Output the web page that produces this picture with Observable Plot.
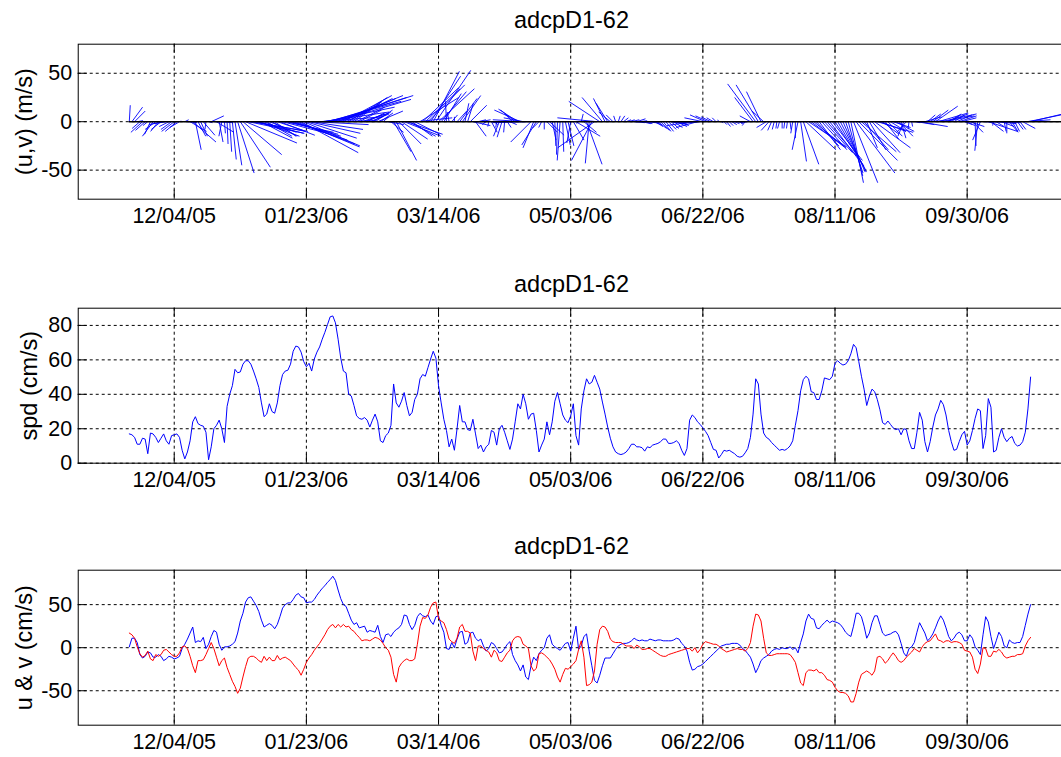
<!DOCTYPE html>
<html>
<head>
<meta charset="utf-8">
<script src="https://cdn.jsdelivr.net/npm/d3@7"></script>
<script src="https://cdn.jsdelivr.net/npm/@observablehq/plot@0.6"></script>
<style>
html, body { margin: 0; padding: 0; background: #fff; overflow: hidden; width: 1061px; height: 757px; }
#wrap { position: relative; width: 1061px; height: 757px; overflow: hidden; background: #fff; }
.panel { position: absolute; left: 0; width: 1080px; }
.panel svg { max-width: none !important; width: 1080px; display: block; }
</style>
</head>
<body>
<div id="wrap"></div>
<script>
// ---- data (daily samples starting 2005-11-17) ----
const startDate = "2005-11-17";
const titleText = "adcpD1-62";
const tickLabels = ["12/04/05", "01/23/06", "03/14/06", "05/03/06", "06/22/06", "08/11/06", "09/30/06"];
const yLabels = ["(u,v) (m/s)", "spd (cm/s)", "u & v (cm/s)"];
const yTicksStick = [-50, 0, 50];
const yTicksSpd = [0, 20, 40, 60, 80];
const yTicksUV = [-50, 0, 50];

// u (east, blue), cm/s
const u = [
  1, 11, 11, 6, -8, -12, -10, -5, -6, -11,
  -11, -8, -10, -15, -13, -10, -11, -13, -12, -10,
  -1, 4, 10, 17, 24, 6, 8, 7, 12, -1,
  4, 13, 20, 18, 4, -3, 1, 1, 2, 4,
  7, 17, 31, 40, 53, 58, 59, 54, 49, 42,
  32, 24, 26, 28, 26, 22, 27, 36, 46, 50,
  52, 52, 56, 61, 63, 59, 58, 52, 53, 53,
  56, 61, 65, 69, 72, 76, 79, 83, 78, 67,
  57, 50, 48, 40, 32, 27, 29, 23, 24, 25,
  18, 20, 19, 18, 26, 13, 6, 15, 16, 13,
  18, 21, 23, 27, 38, 37, 27, 21, 26, 36,
  40, 37, 36, 38, 31, 27, 36, 37, 26, 18,
  -1, -2, 6, 0, 10, 18, 19, 4, 6, 17,
  18, 11, 8, 10, 2, -4, -1, 6, 4, -1,
  -6, -5, -1, 4, 7, -8, -15, -20, -27, -20,
  -34, -37, -21, -11, -15, -7, -3, 0, 11, 15,
  4, 1, -1, -3, 1, 5, 6, -4, 11, 25,
  -2, 2, 13, 16, -4, -21, -38, -41, -32, -21,
  -12, -12, -12, -7, -2, 2, 4, 5, 5, 6,
  8, 11, 9, 8, 9, 8, 8, 10, 9, 8,
  9, 9, 8, 8, 8, 8, 9, 11, 10, 5,
  2, -4, -17, -26, -25, -22, -21, -19, -16, -13,
  -10, -7, -4, -1, 2, 3, 4, 4, 5, 5,
  5, 3, -1, -3, -7, -11, -19, -29, -23, -15,
  -12, -10, -8, -4, -2, -1, -2, 0, -1, -1,
  1, -2, 0, -6, 6, 16, 31, 39, 34, 33,
  23, 22, 26, 29, 32, 29, 31, 30, 29, 27,
  23, 18, 15, 13, 25, 40, 40, 36, 25, 11,
  17, 29, 37, 37, 27, 17, 14, 15, 16, 18,
  19, 15, 5, -6, -10, -1, 1, 6, 18, 29,
  23, 17, 8, 11, 16, 23, 31, 37, 32, 23,
  13, 8, 11, 16, 18, 15, 8, 8, 15, 11,
  1, -3, -8, 15, 36, 30, 13, -1, 8, 18,
  13, 2, 0, 9, 6, 5, 6, 6, 13, 26,
  39, 50
];

// v (north, red), cm/s
const v = [
  17, 15, 11, 1, -7, -11, -9, -4, -13, -15,
  -8, -10, -8, -3, -2, -5, -8, -10, -10, -6,
  1, 2, -1, -10, -21, -29, -15, -15, -14, -8,
  -1, 6, -1, -11, -21, -15, -12, -23, -31, -39,
  -45, -53, -47, -34, -22, -12, -10, -10, -12, -15,
  -17, -10, -15, -11, -15, -15, -9, -14, -12, -11,
  -13, -15, -19, -23, -26, -32, -25, -17, -12, -8,
  -3, 1, 5, 10, 15, 21, 25, 27, 23, 27,
  24, 27, 24, 25, 21, 19, 15, 12, 8, 9,
  9, 8, 10, 12, 11, 9, 5, 0, -3, -11,
  -31, -40, -23, -18, -15, -13, -15, -15, -13, 4,
  25, 35, 34, 38, 47, 52, 53, 34, 31, 29,
  21, 10, 7, 5, 11, 24, 27, 19, 19, 17,
  -4, -15, 2, 2, -1, -3, -5, -11, -3, -6,
  -15, -16, -11, -6, -3, 8, 12, 13, 12, 4,
  2, -1, -21, -27, -24, -7, -6, -8, -11, -14,
  -19, -25, -34, -40, -31, -24, -25, -22, -19, -15,
  -2, 8, -11, -44, -43, -40, -27, 4, 21, 25,
  24, 19, 10, 7, 6, 6, 6, 4, 2, 2,
  2, -1, 3, 1, -2, -2, -1, -1, -3, -5,
  -7, -9, -10, -10, -8, -7, -6, -5, -4, -3,
  -2, -1, -1, -4, 0, -6, -2, 4, 7, 6,
  5, 4, 4, 2, -1, -3, -5, -4, -3, -2,
  -1, -2, -2, -4, -1, 6, 25, 39, 38, 31,
  11, -6, -9, -9, -8, -7, -7, -7, -7, -7,
  -8, -12, -17, -29, -41, -44, -29, -26, -26, -27,
  -25, -29, -29, -32, -37, -38, -40, -46, -50, -52,
  -52, -53, -56, -63, -63, -53, -40, -31, -29, -27,
  -29, -32, -27, -11, -10, -13, -18, -15, -10, -6,
  -10, -15, -17, -15, -11, -8, -5, -1, -3, -5,
  1, 5, 7, 8, 12, 16, 9, 8, 6, 8,
  8, 6, 7, 7, 6, 4, -3, -4, -5, -11,
  -25, -30, -19, 0, -1, -10, -10, -4, -5, -2,
  -5, -10, -12, -11, -10, -10, -8, -8, -7, 2,
  8, 12
];

// speed, cm/s
const spd = [
  17, 16.5, 15, 11, 11, 14.5, 14, 5.5, 17.5, 17,
  15, 12, 14.5, 17, 13, 11, 16, 16.5, 17, 15,
  7.5, 2.5, 6.5, 13, 24, 27, 23, 22, 21.5, 18,
  2, 9.5, 20, 22, 25, 20, 12, 33, 40, 45,
  54.5, 52.5, 53, 57.5, 59.5, 59.5, 57.5, 53.5, 49, 44,
  35, 27, 28.5, 34.5, 30, 29, 35, 45, 51.5, 53.5,
  54, 57.5, 65, 68, 67.5, 64.5, 59, 56, 58, 53.5,
  60.5, 64.5, 67.5, 72, 76, 80.5, 85, 85.5, 81.5, 72,
  61, 53.5, 52.5, 40, 39, 33.5, 27.5, 26, 25.5, 26.5,
  25, 21, 25, 28.5, 24, 13, 12, 16, 17.5, 22,
  46, 35, 32.5, 36, 41, 33.5, 27.5, 29.5, 37, 40,
  49, 51.5, 50.5, 55.5, 60.5, 65, 61, 45, 35, 25.5,
  19, 9.5, 14, 7.5, 20, 33.5, 24, 24, 19.5, 19,
  25.5, 17, 8.5, 10.5, 6.5, 9.5, 11, 19, 18, 10.5,
  20, 22, 18, 13, 8, 14, 24, 34.5, 31.5, 40,
  34.5, 25.5, 28.5, 29, 19, 6.5, 10.5, 14, 24, 16.5,
  24, 36, 41, 34.5, 28, 25, 23.5, 27.5, 34.5, 16,
  10.5, 31.5, 42, 49, 46, 47, 51, 47, 43, 35.5,
  28.5, 21, 14.5, 9.5, 6.5, 5.5, 5, 5.5, 6.5, 8.5,
  11, 11, 9.5, 9.5, 9, 7, 9.5, 9, 10.5, 11,
  11.5, 12.5, 14, 14, 11.5, 11.5, 12, 13, 11.5, 7.5,
  4.5, 8.5, 25, 28, 26.5, 24, 22.5, 20.5, 18.5, 16,
  12, 8, 7.5, 3, 5, 7.5, 7, 7.5, 6.5, 5.5,
  4, 3.5, 4, 6, 8.5, 15, 28.5, 49, 46, 28.5,
  17.5, 15, 14, 12, 10.5, 9, 7.5, 8, 7.5, 8.5,
  10, 13, 22, 30.5, 42, 48.5, 50.5, 49, 41.5, 41,
  37, 37, 42, 49.5, 49, 48.5, 50.5, 58, 59.5, 58,
  57, 57.5, 59.5, 63.5, 69, 67, 59, 50.5, 43, 33.5,
  39, 43, 41.5, 37, 31, 23.5, 22.5, 24.5, 22.5, 20.5,
  19.5, 20, 16.5, 20, 19.5, 13, 8.5, 8.5, 18, 29.5,
  25, 12.5, 6.5, 12.5, 21, 28, 31.5, 36.5, 34, 28,
  19, 12.5, 7.5, 8, 12.5, 16.5, 18.5, 10.5, 13, 19,
  26, 31.5, 30.5, 8.5, 16, 37.5, 32.5, 6.5, 7.5, 15,
  20, 15, 12.5, 14.5, 15.5, 11.5, 10, 10.5, 12.5, 18,
  31.5, 50
];

// ---- build table ----
const DAY = 864e5;
const t0 = d3.utcParse("%Y-%m-%d")(startDate).getTime();
const n = Math.min(u.length, v.length, spd.length);
const rows = d3.range(n).map(i => ({date: new Date(t0 + i * DAY), u: u[i], v: v[i], spd: spd[i]}));
const xt = tickLabels.map(d3.utcParse("%m/%d/%y"));
const fmt = d3.utcFormat("%m/%d/%y");

// ---- layout ----
const ML = 77.7, MT = 43.7, FH = 155, MB = 34, FW = 986.6, W = 1080;
const xDomain = [new Date(Date.UTC(2005, 9, 28, 16, 20)), new Date(Date.UTC(2006, 10, 5, 22, 20))];
const spanDays = (xDomain[1] - xDomain[0]) / DAY;
const FONT = "'Liberation Sans', Arial, Helvetica, sans-serif";
const BLUE = "#0000ff", RED = "#ff0000";

function panel(top, ydomain, yticks, ylabel, labelX, dataMarks) {
  const chart = Plot.plot({
    width: W,
    height: MT + FH + MB,
    marginLeft: ML,
    marginRight: W - ML - FW,
    marginTop: MT,
    marginBottom: MB,
    style: {fontFamily: FONT, fontSize: "21.5px", color: "black", background: "white", overflow: "visible", maxWidth: "none"},
    x: {type: "utc", domain: xDomain, axis: null, label: null},
    y: {domain: ydomain, axis: null, label: null},
    marks: [
      Plot.ruleX(xt, {stroke: "black", strokeWidth: 1, strokeDasharray: "3,3"}),
      Plot.ruleY(yticks, {stroke: "black", strokeWidth: 1, strokeDasharray: "3,3"}),
      ...dataMarks,
      Plot.ruleX(xt, {stroke: "black", insetBottom: FH - 9}),
      Plot.ruleX(xt, {stroke: "black", insetTop: FH - 9}),
      Plot.ruleY(yticks, {stroke: "black", insetRight: FW - 9}),
      Plot.frame({stroke: "black", strokeWidth: 1}),
      Plot.axisX({ticks: xt, tickFormat: fmt, tickSize: 0, tickPadding: 8.6, label: null}),
      Plot.axisY({ticks: yticks, tickFormat: d => String(d), tickSize: 0, tickPadding: 6, label: null}),
      Plot.text([titleText], {text: d => d, frameAnchor: "top", lineAnchor: "bottom", dy: -15.7, fontSize: 23.5, fill: "black"}),
      Plot.text([ylabel], {text: d => d, frameAnchor: "left", rotate: -90, dx: labelX - ML, fontSize: 23.5, lineAnchor: "middle", textAnchor: "middle", fill: "black"})
    ]
  });
  const div = document.createElement("div");
  div.className = "panel";
  div.style.top = top + "px";
  div.appendChild(chart);
  document.getElementById("wrap").appendChild(div);
}

// stick scale: keep true aspect (px per unit y == px per unit of u along x)
const stickDomain = [-80, 80];
const kDays = (FH / (stickDomain[1] - stickDomain[0])) / (FW / spanDays);

panel(0, stickDomain, yTicksStick, yLabels[0], 24, [
  Plot.link(rows, {
    x1: "date", y1: () => 0,
    x2: d => new Date(d.date.getTime() + d.u * kDays * DAY), y2: "v",
    stroke: BLUE, strokeWidth: 0.9
  }),
  Plot.ruleY([0], {x1: () => rows[0].date, x2: () => xDomain[1], stroke: "black", strokeWidth: 1.5})
]);

panel(263.8, [0, 90], yTicksSpd, yLabels[1], 29, [
  Plot.line(rows, {x: "date", y: "spd", stroke: BLUE, strokeWidth: 1})
]);

panel(525.6, [-90, 90], yTicksUV, yLabels[2], 24, [
  Plot.line(rows, {x: "date", y: "u", stroke: BLUE, strokeWidth: 1}),
  Plot.line(rows, {x: "date", y: "v", stroke: RED, strokeWidth: 1})
]);
</script>
</body>
</html>
